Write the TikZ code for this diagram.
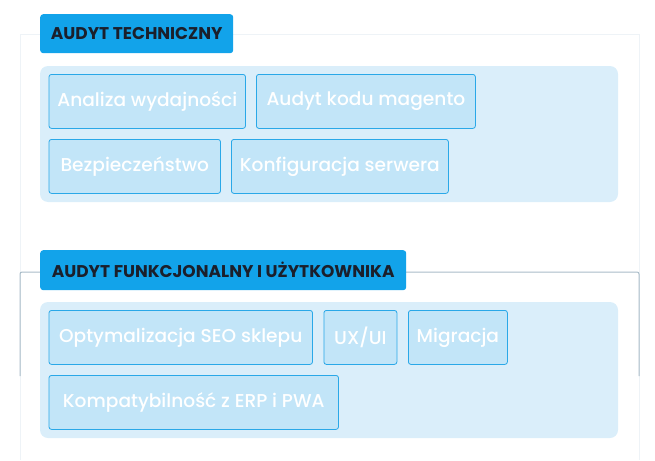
\documentclass[tikz,border=0pt]{standalone}
\usepackage{fontspec}
\setmainfont{Poppins}[UprightFont=* Medium,BoldFont=* Bold]
\definecolor{titleblue}{HTML}{12A3EA}
\definecolor{titletext}{HTML}{1B1F2B}
\definecolor{panelfill}{HTML}{DAEEFA}
\definecolor{itemfill}{HTML}{C2E5F8}
\definecolor{itemedge}{HTML}{2AA8E8}
\definecolor{framefaint}{HTML}{EEF3F7}
\definecolor{framegray}{HTML}{A9BCC8}
\begin{document}
\begin{tikzpicture}[x=1pt,y=-1pt,
  title/.style={fill=titleblue,text=titletext,rounded corners=3pt,anchor=north west,inner sep=0pt,
    font=\fontsize{17}{20}\selectfont\bfseries},
  item/.style={draw=itemedge,fill=itemfill,line width=0.8pt,rounded corners=2.5pt,text=white,
    anchor=north west,inner sep=0pt,minimum height=54pt,font=\fontsize{18.6}{21}\selectfont}]
\useasboundingbox (0,0) rectangle (655,460);

% frames
\draw[framefaint,line width=1pt] (20,460) -- (20,35) -- (639,35) -- (639,460);
\draw[framegray,line width=1pt,rounded corners=2pt] (20,376) -- (20,272) -- (639,272) -- (639,376);

% panels
\fill[panelfill,rounded corners=8pt] (40,66) rectangle (618,202);
\fill[panelfill,rounded corners=8pt] (40,302) rectangle (618,438);

% titles
\node[title,minimum width=193pt,minimum height=39pt] (tech) at (40,14) {AUDYT TECHNICZNY};
\node[title,minimum width=366pt,minimum height=40pt] (func) at (40,250) {AUDYT FUNKCJONALNY I UŻYTKOWNIKA};

% first group
\node[item,minimum width=196.5pt] (analiza) at (48.6,74) {Analiza wydajności};
\node[item,minimum width=219pt] (kod) at (256,74) {Audyt kodu magento};
\node[item,minimum width=171.5pt] (bezp) at (48.6,139) {Bezpieczeństwo};
\node[item,minimum width=217pt] (serwer) at (231,139) {Konfiguracja serwera};

% second group
\node[item,minimum width=263.5pt] (seo) at (48.6,310) {Optymalizacja SEO sklepu};
\node[item,minimum width=73pt] (ux) at (323.5,310) {UX/UI};
\node[item,minimum width=99pt] (migr) at (408,310) {Migracja};
\node[item,minimum width=289.5pt] (erp) at (48.6,375) {Kompatybilność z ERP i PWA};
\end{tikzpicture}
\end{document}
